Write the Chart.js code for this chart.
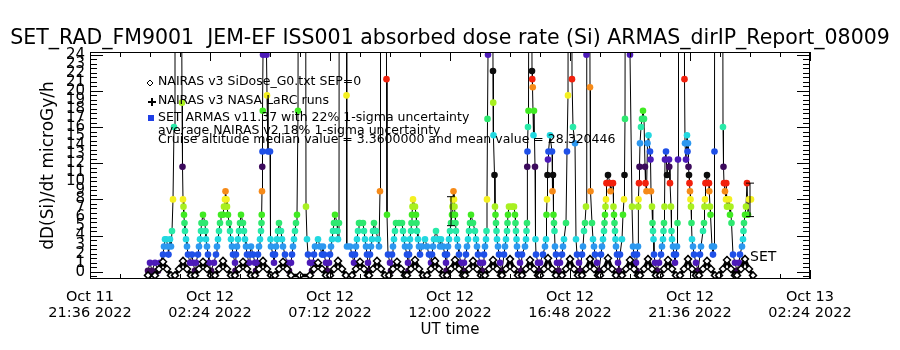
<!DOCTYPE html>
<html>
<head>
<meta charset="utf-8">
<script src="https://cdn.jsdelivr.net/npm/chart.js@4/dist/chart.umd.min.js"></script>
<style>
  html, body { margin: 0; padding: 0; background: #fff; }
  canvas { display: block; }
</style>
</head>
<body>
<canvas id="doseChart" width="900" height="350"></canvas>
<script>
// Time axis is in hours since Oct 11 2022 00:00 UT
const xTickHours = [21.6, 26.4, 31.2, 36.0, 40.8, 45.6, 50.4];
const xTickLabels = [
    ['Oct 11', '21:36 2022'],
    ['Oct 12', '02:24 2022'],
    ['Oct 12', '07:12 2022'],
    ['Oct 12', '12:00 2022'],
    ['Oct 12', '16:48 2022'],
    ['Oct 12', '21:36 2022'],
    ['Oct 13', '02:24 2022']
];
const yTickValues = [0, 1, 2, 3, 4, 5, 6, 7, 8, 9, 10, 11, 12, 13, 14, 15, 16, 17, 18, 19, 20, 21, 22, 23, 24];

// SET ARMAS dose rate [hour, microGy/h] (values above 24 run off the top)
const armas = [
    [23.92,0.1],[24.00,1.0],[24.08,0.1],[24.20,1.0],[24.32,0.1],[24.40,1.0],
    [24.52,1.9],[24.56,2.8],[24.60,3.6],[24.64,3.6],[24.72,2.8],[24.74,1.9],[24.80,3.6],[24.84,2.8],
    [24.88,4.5],[24.92,8.0],[24.96,16.0],[25.00,60],[25.20,85],
    [25.28,18.7],[25.30,11.6],[25.32,8.0],[25.34,7.2],[25.36,6.3],[25.38,5.4],[25.40,4.5],[25.44,3.6],[25.48,2.8],[25.52,1.9],[25.60,1.0],[25.68,1.9],[25.72,1.0],[25.80,0.1],
    [25.84,1.0],[25.92,1.9],[25.96,2.8],[26.00,3.6],[26.04,4.5],[26.06,5.4],[26.12,6.3],[26.20,5.4],[26.22,4.5],[26.24,3.6],[26.28,2.8],[26.32,1.9],[26.36,1.0],[26.44,0.1],
    [26.56,1.0],[26.64,1.9],[26.68,2.8],[26.72,3.6],[26.76,4.5],[26.80,5.4],[26.84,6.3],[26.92,6.3],[26.96,7.2],[27.00,8.0],[27.02,8.9],[27.06,8.0],[27.08,7.2],[27.12,6.3],[27.16,5.4],[27.20,4.5],[27.24,3.6],[27.28,2.8],[27.32,1.9],[27.40,1.0],[27.42,0.1],
    [27.44,1.9],[27.48,2.8],[27.52,3.6],[27.56,4.5],[27.60,5.4],[27.64,6.3],[27.72,5.4],[27.76,4.5],[27.80,3.6],[27.84,2.8],[27.88,1.9],[27.96,1.0],[28.00,1.9],[28.04,2.8],[28.12,1.9],[28.20,1.0],[28.24,0.1],
    [28.28,1.0],[28.32,1.9],[28.36,2.8],[28.40,3.6],[28.44,4.5],[28.46,5.4],[28.47,6.3],[28.48,8.9],[28.49,11.6],[28.50,13.3],[28.51,17.8],[28.52,24.0],[28.56,90],[28.64,90],[28.66,24.0],[28.68,19.5],[28.72,13.3],[28.80,13.3],[28.82,3.6],[28.84,2.8],[28.92,1.9],[28.96,1.0],
    [29.00,1.9],[29.04,2.8],[29.08,3.6],[29.12,4.5],[29.16,5.4],[29.24,4.5],[29.28,3.6],[29.32,2.8],[29.40,1.9],[29.48,1.0],[29.56,0.1],[29.64,1.0],
    [29.68,1.9],[29.72,2.8],[29.76,3.6],[29.80,4.5],[29.84,5.4],[29.88,6.3],[29.92,17.8],[29.96,90],[30.20,90],[30.24,7.2],[30.28,3.6],[30.32,1.9],[30.40,1.0],[30.48,0.1],
    [30.52,1.0],[30.56,1.9],[30.60,2.8],[30.72,3.6],[30.80,2.8],[30.88,1.9],[30.92,2.8],[30.96,1.9],[31.04,1.0],[31.08,0.1],
    [31.16,1.0],[31.20,1.9],[31.24,2.8],[31.28,3.6],[31.32,4.5],[31.36,5.4],[31.40,6.3],[31.48,5.4],[31.50,4.5],[31.52,3.6],[31.56,5.4],[31.58,90],[31.84,90],[31.86,19.5],[31.88,2.8],[32.00,2.8],[32.08,1.9],[32.16,1.0],
    [32.20,1.9],[32.24,2.8],[32.28,3.6],[32.32,4.5],[32.36,5.4],[32.40,5.4],[32.52,5.4],[32.56,4.5],[32.60,3.6],[32.64,2.8],[32.68,1.9],[32.72,1.0],[32.76,0.1],
    [32.80,1.9],[32.84,2.8],[32.88,3.6],[32.92,4.5],[32.96,5.4],[33.04,4.5],[33.12,3.6],[33.16,2.8],[33.20,8.9],[33.22,90],[33.44,90],[33.46,21.3],[33.48,6.3],[33.52,1.9],[33.60,1.0],[33.64,0.1],
    [33.68,1.9],[33.72,2.8],[33.76,3.6],[33.80,4.5],[33.84,5.4],[33.96,5.4],[34.08,5.4],[34.12,4.5],[34.16,3.6],[34.20,2.8],[34.28,1.9],[34.32,1.0],[34.34,0.1],
    [34.36,1.9],[34.38,2.8],[34.40,3.6],[34.44,4.5],[34.46,5.4],[34.48,6.3],[34.50,7.2],[34.52,8.0],[34.60,7.2],[34.64,6.3],[34.66,5.4],[34.68,4.5],[34.72,3.6],[34.76,2.8],[34.80,1.9],[34.88,2.8],[35.00,3.6],[35.08,2.8],[35.16,1.9],[35.24,1.0],
    [35.28,1.9],[35.32,2.8],[35.36,3.6],[35.44,4.5],[35.52,3.6],[35.60,2.8],[35.64,3.6],[35.72,2.8],[35.80,1.9],[35.84,1.0],[35.86,0.1],
    [35.88,1.9],[35.92,2.8],[35.96,3.6],[36.00,4.5],[36.04,5.4],[36.08,6.3],[36.10,7.2],[36.12,8.0],[36.14,8.9],[36.16,8.0],[36.18,7.2],[36.20,6.3],[36.22,5.4],[36.24,4.5],[36.28,3.6],[36.32,2.8],[36.36,1.9],[36.44,1.0],[36.52,0.1],
    [36.56,1.0],[36.64,1.9],[36.68,2.8],[36.72,3.6],[36.76,4.5],[36.80,5.4],[36.84,6.3],[36.92,5.4],[37.00,4.5],[37.04,3.6],[37.08,2.8],[37.12,1.9],[37.20,1.0],[37.28,0.1],
    [37.32,1.0],[37.36,1.9],[37.40,2.8],[37.44,3.6],[37.46,4.5],[37.48,8.0],[37.50,16.9],[37.52,24.0],[37.56,90],[37.68,90],[37.72,22.2],[37.73,18.7],[37.74,15.1],[37.78,10.7],[37.80,7.2],[37.82,6.3],[37.84,5.4],[37.86,4.5],[37.88,3.6],[37.92,2.8],[37.96,1.9],[38.00,1.0],
    [38.08,0.1],[38.16,1.9],[38.20,2.8],[38.24,3.6],[38.28,4.5],[38.30,5.4],[38.32,6.3],[38.36,7.2],[38.48,7.2],[38.56,7.2],[38.60,6.3],[38.62,5.4],[38.64,4.5],[38.66,3.6],[38.68,2.8],[38.72,1.9],[38.80,1.0],[38.84,0.1],
    [38.88,1.9],[39.00,2.8],[39.04,3.6],[39.06,4.5],[39.08,5.4],[39.09,11.6],[39.10,13.3],[39.12,16.0],[39.14,17.8],[39.20,90],[39.24,90],[39.28,22.2],[39.29,21.3],[39.31,20.4],[39.34,15.1],[39.36,17.8],[39.40,11.6],[39.42,3.6],[39.44,1.9],[39.52,1.0],[39.56,0.1],
    [39.60,1.0],[39.72,1.9],[39.80,2.8],[39.84,3.6],[39.86,6.3],[39.88,8.0],[39.90,10.7],[39.92,12.4],[39.94,13.3],[40.00,15.1],[40.08,13.3],[40.10,8.9],[40.12,10.7],[40.14,6.3],[40.16,5.4],[40.18,4.5],[40.20,2.8],[40.24,1.9],[40.28,1.0],[40.34,0.1],
    [40.40,1.0],[40.48,1.9],[40.52,2.8],[40.56,3.6],[40.64,5.4],[40.68,13.3],[40.72,19.5],[40.76,90],[40.84,90],[40.88,21.3],[40.92,16.0],[41.00,14.2],[41.04,3.6],[41.08,1.9],[41.16,1.0],
    [41.20,0.1],[41.28,1.9],[41.32,2.8],[41.36,4.5],[41.40,5.4],[41.44,7.2],[41.46,24.0],[41.48,90],[41.56,90],[41.60,20.4],[41.62,8.9],[41.68,5.4],[41.72,3.6],[41.76,2.8],[41.80,1.9],[41.88,1.0],
    [41.96,0.1],[42.04,1.9],[42.08,2.8],[42.12,3.6],[42.16,4.5],[42.18,5.4],[42.20,6.3],[42.22,7.2],[42.24,8.0],[42.26,9.8],[42.32,10.7],[42.40,9.8],[42.42,8.9],[42.52,9.8],[42.54,7.2],[42.56,6.3],[42.58,5.4],[42.60,4.5],[42.62,3.6],[42.64,2.8],[42.68,1.9],[42.72,1.0],[42.76,0.1],
    [42.80,1.9],[42.88,3.6],[42.92,6.3],[42.96,8.0],[42.98,10.7],[43.00,16.9],[43.04,90],[43.16,90],[43.20,24.0],[43.28,7.2],[43.32,2.8],[43.36,1.9],[43.44,1.0],[43.46,0.1],
    [43.48,1.9],[43.52,2.8],[43.53,7.2],[43.54,8.0],[43.56,9.8],[43.58,11.6],[43.60,14.2],[43.64,16.0],[43.68,16.9],[43.72,17.8],[43.76,16.9],[43.80,11.6],[43.82,9.8],[43.86,8.9],[43.90,14.2],[43.94,15.1],[44.00,13.3],[44.02,12.4],[44.04,8.9],[44.08,7.2],[44.10,5.4],[44.12,4.5],[44.14,3.6],[44.16,1.9],[44.20,1.0],[44.28,0.1],
    [44.36,1.0],[44.44,1.9],[44.48,2.8],[44.52,3.6],[44.54,4.5],[44.56,5.4],[44.58,7.2],[44.60,12.4],[44.64,13.3],[44.68,10.7],[44.76,12.4],[44.77,11.6],[44.80,9.8],[44.84,7.2],[44.86,4.5],[44.88,3.6],[44.92,2.8],[44.96,1.9],[45.00,1.0],
    [45.04,1.9],[45.08,2.8],[45.10,5.4],[45.12,12.4],[45.14,90],[45.36,90],[45.38,21.3],[45.40,14.2],[45.44,12.4],[45.48,15.1],[45.50,13.3],[45.52,14.2],[45.54,11.6],[45.56,10.7],[45.58,9.8],[45.60,8.9],[45.62,8.0],[45.64,7.2],[45.66,5.4],[45.68,3.6],[45.72,2.8],[45.76,1.9],[45.84,1.0],
    [45.92,0.1],[46.00,1.9],[46.04,2.8],[46.12,4.5],[46.16,5.4],[46.18,7.2],[46.20,8.0],[46.22,9.8],[46.28,10.7],[46.36,9.8],[46.37,8.9],[46.40,7.2],[46.42,6.3],[46.48,2.8],[46.52,1.9],
    [46.56,2.8],[46.58,13.3],[46.60,90],[46.88,90],[46.92,16.0],[46.94,11.6],[46.96,9.8],[47.00,8.9],[47.04,8.0],[47.05,9.8],[47.08,7.2],[47.16,8.0],[47.20,6.3],[47.22,7.2],[47.26,5.4],[47.32,1.9],[47.40,1.0],[47.48,0.1],
    [47.56,1.0],[47.60,1.9],[47.68,2.8],[47.72,3.6],[47.74,4.5],[47.76,5.4],[47.80,6.3],[47.84,7.2],[47.88,9.8],[47.92,6.3],[47.96,8.0],[48.04,8.0]
];

// NAIRAS v3 SiDose_G0 model [hour, microGy/h]
const nairas = [
    [23.92,-0.4],
    [24.20,-0.4],[24.36,0.3],[24.52,1.1],[24.68,0.3],[24.84,-0.4],
    [25.00,-0.4],[25.16,0.3],[25.32,1.2],[25.48,0.3],[25.64,-0.4],
    [25.80,-0.4],[25.96,0.3],[26.12,1.1],[26.28,0.3],[26.44,-0.4],
    [26.60,-0.4],[26.76,0.3],[26.92,1.2],[27.08,0.3],[27.24,-0.4],
    [27.40,-0.4],[27.56,0.3],[27.72,1.1],[27.88,0.3],[28.04,-0.4],
    [28.20,-0.4],[28.36,0.3],[28.52,1.2],[28.68,0.3],[28.84,-0.4],
    [29.00,-0.4],[29.16,0.3],[29.32,1.1],[29.48,0.3],[29.64,-0.4],
    [30.00,-0.4],
    [30.40,-0.4],[30.56,0.3],[30.72,1.0],[30.88,0.3],[31.04,-0.4],
    [31.20,-0.4],[31.36,0.3],[31.52,1.2],[31.68,0.3],[31.84,-0.4],
    [32.08,-0.4],[32.24,0.3],[32.40,1.1],[32.56,0.3],[32.72,-0.4],
    [32.76,-0.4],[32.92,0.3],[33.08,1.2],[33.24,0.3],[33.40,-0.4],
    [33.56,-0.4],[33.72,0.3],[33.88,1.1],[34.04,0.3],[34.20,-0.4],
    [34.28,-0.4],[34.44,0.3],[34.60,1.3],[34.76,0.3],[34.92,-0.4],
    [35.08,-0.4],[35.24,0.3],[35.40,1.2],[35.56,0.3],[35.72,-0.4],
    [35.88,-0.4],[36.04,0.3],[36.20,1.3],[36.36,0.3],[36.52,-0.4],
    [36.60,-0.4],[36.76,0.3],[36.92,1.2],[37.08,0.3],[37.24,-0.4],
    [37.40,-0.4],[37.56,0.3],[37.72,1.3],[37.88,0.3],[38.04,-0.4],
    [38.08,-0.4],[38.24,0.3],[38.40,1.4],[38.56,0.3],[38.72,-0.4],
    [38.88,-0.4],[39.04,0.3],[39.20,1.3],[39.36,0.3],[39.52,-0.4],
    [39.60,-0.4],[39.76,0.3],[39.92,1.5],[40.08,0.3],[40.24,-0.4],
    [40.48,-0.4],[40.64,0.3],[40.80,1.4],[40.96,0.3],[41.12,-0.4],
    [41.28,-0.4],[41.44,0.3],[41.60,1.4],[41.76,0.3],[41.92,-0.4],
    [42.00,-0.4],[42.16,0.3],[42.32,1.5],[42.48,0.3],[42.64,-0.4],
    [42.88,-0.4],[43.04,0.3],[43.20,1.3],[43.36,0.3],[43.52,-0.4],
    [43.60,-0.4],[43.76,0.3],[43.92,1.4],[44.08,0.3],[44.24,-0.4],
    [44.40,-0.4],[44.56,0.3],[44.72,1.3],[44.88,0.3],[45.04,-0.4],
    [45.20,-0.4],[45.36,0.3],[45.52,1.4],[45.68,0.3],[45.84,-0.4],
    [45.96,-0.4],[46.12,0.3],[46.28,1.2],[46.44,0.3],[46.60,-0.4],
    [46.76,-0.4],[46.92,0.3],[47.08,1.3],[47.24,0.3],[47.40,-0.4],
    [47.48,-0.4],[47.64,0.3],[47.80,1.4],[47.96,0.3],[48.12,-0.4]
];

// uncertainty bars
const errBarHours = [36.04, 48.0];
const errBarLow = [5.1, 6.1];
const errBarHigh = [8.3, 9.8];

const legendLines = [
    'NAIRAS v3 SiDose_G0.txt SEP=0',
    'NAIRAS v3 NASA LaRC runs',
    'SET ARMAS v11.37 with 22% 1-sigma uncertainty',
    'average NAIRAS v2 18% 1-sigma uncertainty',
    'Cruise altitude median value = 3.3600000 and mean value = 28.320446'
];

const FONT = '"DejaVu Sans", sans-serif';

// colour table cycles every 13 dose levels
const levelColors = [
    '#3c0a5c', '#4c1ab8', '#1f50e8', '#2c98f0', '#22d8e0', '#28eaa8', '#2ee870',
    '#40ea22', '#a8f020', '#f4f020', '#f68a18', '#f2200c', '#0c0c0c'
];
function doseColor(v) {
    const level = Math.round((v - 0.1) / 0.885);
    return levelColors[((level % 13) + 13) % 13];
}

// inward IDL-style ticks, frame, in-plot legend
const idlDecor = {
    id: 'idlDecor',
    afterDatasetsDraw(chart) {
        const { ctx, chartArea: a, scales: { x, y } } = chart;
        ctx.save();
        ctx.strokeStyle = '#000';
        ctx.lineWidth = 1;
        ctx.strokeRect(a.left + 0.5, a.top + 0.5, a.right - a.left - 1, a.bottom - a.top - 1);

        ctx.beginPath();
        for (let i = 0; i <= 24; i++) {
            const px = Math.round(x.getPixelForValue(21.6 + i * 1.2)) + 0.5;
            const len = i % 4 === 0 ? 9 : 5;
            ctx.moveTo(px, a.bottom); ctx.lineTo(px, a.bottom - len);
            ctx.moveTo(px, a.top); ctx.lineTo(px, a.top + len);
        }
        for (let i = -1; i <= 48; i++) {
            const py = Math.round(y.getPixelForValue(i * 0.5)) + 0.5;
            const len = i % 8 === 0 ? 13 : 7;
            ctx.moveTo(a.left, py); ctx.lineTo(a.left + len, py);
            ctx.moveTo(a.right, py); ctx.lineTo(a.right - len, py);
        }
        ctx.stroke();

        // legend symbols
        ctx.fillStyle = '#fff';
        ctx.beginPath();
        ctx.moveTo(150, 80); ctx.lineTo(153, 83); ctx.lineTo(150, 86); ctx.lineTo(147, 83); ctx.closePath();
        ctx.fill(); ctx.stroke();
        ctx.lineWidth = 2;
        ctx.beginPath();
        ctx.moveTo(148, 102); ctx.lineTo(156, 102);
        ctx.moveTo(152, 98); ctx.lineTo(152, 106);
        ctx.stroke();
        ctx.fillStyle = '#1f3fe6';
        ctx.fillRect(148, 115, 6, 6);

        ctx.fillStyle = '#000';
        ctx.font = '12.5px ' + FONT;
        ctx.textBaseline = 'middle';
        ctx.textAlign = 'left';
        const lineY = [82, 101, 118, 131, 140];
        legendLines.forEach((t, i) => ctx.fillText(t, 158, lineY[i]));

        ctx.font = '14px ' + FONT;
        ctx.fillText('SET', x.getPixelForValue(48.0), y.getPixelForValue(1.6));
        ctx.restore();
    }
};

const errDatasets = errBarHours.map((h, i) => ({
    data: [{ x: h, y: errBarLow[i] }, { x: h, y: errBarHigh[i] }],
    showLine: true,
    borderColor: '#000',
    borderWidth: 1,
    pointStyle: 'line',
    pointRadius: 4,
    pointBorderColor: '#000',
    pointBorderWidth: 1,
    order: 0
}));

Chart.defaults.color = '#000';
Chart.defaults.font.family = FONT;

new Chart(document.getElementById('doseChart'), {
    type: 'scatter',
    data: {
        datasets: [
            {
                label: 'NAIRAS v3 SiDose_G0.txt SEP=0',
                data: nairas.map(([h, v]) => ({ x: h, y: v })),
                showLine: true,
                borderColor: '#000',
                borderWidth: 3.5,
                pointStyle: 'rectRot',
                pointRadius: 3.5,
                pointBorderColor: '#000',
                pointBackgroundColor: '#fff',
                pointBorderWidth: 1.5,
                order: 1
            },
            {
                label: 'SET ARMAS',
                data: armas.map(([h, v]) => ({ x: h, y: v })),
                showLine: true,
                borderColor: '#000',
                borderWidth: 1,
                pointRadius: 3.3,
                pointBorderWidth: 0,
                pointBackgroundColor: c => doseColor(c.parsed ? c.parsed.y : 0),
                order: 2
            },
            ...errDatasets
        ]
    },
    options: {
        responsive: false,
        animation: false,
        events: [],
        layout: { padding: 0 },
        plugins: {
            legend: { display: false },
            tooltip: { enabled: false },
            title: {
                display: true,
                text: 'SET_RAD_FM9001  JEM-EF ISS001 absorbed dose rate (Si) ARMAS_dirIP_Report_08009',
                font: { size: 20.5, weight: 'normal', family: FONT },
                color: '#000',
                padding: { top: 26, bottom: 1.4 }
            }
        },
        scales: {
            x: {
                type: 'linear',
                min: 21.6,
                max: 50.4,
                afterBuildTicks: s => { s.ticks = xTickHours.map(v => ({ value: v })); },
                afterFit: s => { s.height = 71; },
                grid: { display: false, drawTicks: false },
                border: { display: false },
                ticks: {
                    autoSkip: false,
                    maxRotation: 0,
                    padding: 10,
                    font: { size: 14.5, lineHeight: 1.1 },
                    callback: (v, i) => xTickLabels[i]
                },
                title: {
                    display: true,
                    text: 'UT time',
                    font: { size: 15 },
                    padding: { top: 0, bottom: 11 }
                }
            },
            y: {
                min: -0.8,
                max: 24.3,
                afterBuildTicks: s => { s.ticks = yTickValues.map(v => ({ value: v })); },
                afterFit: s => { s.width = 90; },
                grid: { display: false, drawTicks: false },
                border: { display: false },
                ticks: {
                    autoSkip: false,
                    padding: 5,
                    font: { size: 15 },
                    callback: v => String(v)
                },
                title: {
                    display: true,
                    text: 'dD(Si)/dt microGy/h',
                    font: { size: 17 },
                    padding: { top: 38, bottom: 0 }
                }
            },
            // empty right-hand axis: keeps the IDL right margin
            yRight: {
                position: 'right',
                min: -0.8,
                max: 24.3,
                afterFit: s => { s.width = 90; },
                grid: { display: false, drawTicks: false },
                border: { display: false },
                ticks: { display: false }
            }
        }
    },
    plugins: [idlDecor]
});
</script>
</body>
</html>
